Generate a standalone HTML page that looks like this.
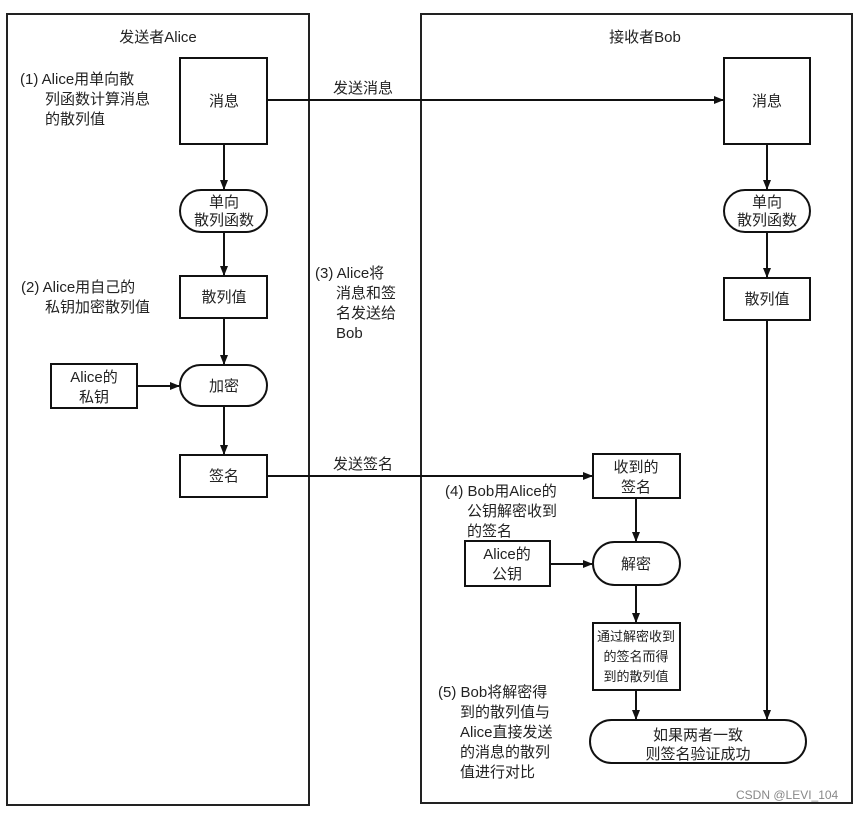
<!DOCTYPE html>
<html><head><meta charset="utf-8"><style>
body{margin:0;background:#fff;}
svg text{font-family:"Liberation Sans","Noto Sans CJK SC",sans-serif;fill:#222;}
</style></head><body>
<svg width="859" height="811" viewBox="0 0 859 811" xmlns="http://www.w3.org/2000/svg">
<defs><marker id="a" markerWidth="10" markerHeight="10" refX="9" refY="5" orient="auto" markerUnits="userSpaceOnUse"><path d="M0,1 L10,5 L0,9 z" fill="#111"/></marker></defs>
<g fill="none" stroke="#222" stroke-width="2">
<rect x="7" y="14" width="302" height="791"/>
<rect x="421" y="14" width="431" height="789"/>
</g>
<g fill="#fff" stroke="#111" stroke-width="2">
<rect x="180" y="58" width="87" height="86"/>
<rect x="180" y="190" width="87" height="42" rx="21"/>
<rect x="180" y="276" width="87" height="42"/>
<rect x="180" y="365" width="87" height="41" rx="20.5"/>
<rect x="51" y="364" width="86" height="44"/>
<rect x="180" y="455" width="87" height="42"/>
<rect x="724" y="58" width="86" height="86"/>
<rect x="724" y="190" width="86" height="42" rx="21"/>
<rect x="724" y="278" width="86" height="42"/>
<rect x="593" y="454" width="87" height="44"/>
<rect x="593" y="542" width="87" height="43" rx="21.5"/>
<rect x="465" y="541" width="85" height="45"/>
<rect x="593" y="623" width="87" height="67"/>
<rect x="590" y="720" width="216" height="43" rx="21.5"/>
</g>
<g stroke="#111" stroke-width="2" marker-end="url(#a)">
<line x1="267" y1="100" x2="723" y2="100"/>
<line x1="267" y1="476" x2="592" y2="476"/>
<line x1="224" y1="144" x2="224" y2="189"/>
<line x1="224" y1="232" x2="224" y2="275"/>
<line x1="224" y1="318" x2="224" y2="364"/>
<line x1="224" y1="406" x2="224" y2="454"/>
<line x1="137" y1="386" x2="179" y2="386"/>
<line x1="767" y1="144" x2="767" y2="189"/>
<line x1="767" y1="232" x2="767" y2="277"/>
<line x1="767" y1="320" x2="767" y2="719"/>
<line x1="636" y1="498" x2="636" y2="541"/>
<line x1="550" y1="564" x2="592" y2="564"/>
<line x1="636" y1="585" x2="636" y2="622"/>
<line x1="636" y1="690" x2="636" y2="719"/>
</g>
<g font-size="15" text-anchor="middle">
<text x="158" y="42">发送者Alice</text>
<text x="645" y="42">接收者Bob</text>
<text x="224" y="106">消息</text>
<text x="224" y="207">单向</text><text x="224" y="225">散列函数</text>
<text x="224" y="302">散列值</text>
<text x="224" y="391">加密</text>
<text x="94" y="382">Alice的</text><text x="94" y="402">私钥</text>
<text x="224" y="481">签名</text>
<text x="767" y="106">消息</text>
<text x="767" y="207">单向</text><text x="767" y="225">散列函数</text>
<text x="767" y="304">散列值</text>
<text x="636" y="472">收到的</text><text x="636" y="492">签名</text>
<text x="636" y="569">解密</text>
<text x="507" y="559">Alice的</text><text x="507" y="579">公钥</text>
<text x="698" y="740">如果两者一致</text><text x="698" y="759">则签名验证成功</text>
</g>
<g font-size="13" text-anchor="middle">
<text x="636" y="641">通过解密收到</text><text x="636" y="661">的签名而得</text><text x="636" y="681">到的散列值</text>
</g>
<g font-size="15">
<text x="333" y="93">发送消息</text>
<text x="333" y="469">发送签名</text>
<text x="20" y="84">(1) Alice用单向散</text><text x="45" y="104">列函数计算消息</text><text x="45" y="124">的散列值</text>
<text x="21" y="292">(2) Alice用自己的</text><text x="45" y="312">私钥加密散列值</text>
<text x="315" y="278">(3) Alice将</text><text x="336" y="298">消息和签</text><text x="336" y="318">名发送给</text><text x="336" y="338">Bob</text>
<text x="445" y="496">(4) Bob用Alice的</text><text x="467" y="516">公钥解密收到</text><text x="467" y="536">的签名</text>
<text x="438" y="697">(5) Bob将解密得</text><text x="460" y="717">到的散列值与</text><text x="460" y="737">Alice直接发送</text><text x="460" y="757">的消息的散列</text><text x="460" y="777">值进行对比</text>
</g>
<text x="736" y="799" font-size="12" style="fill:#888">CSDN @LEVI_104</text>
</svg>
</body></html>
